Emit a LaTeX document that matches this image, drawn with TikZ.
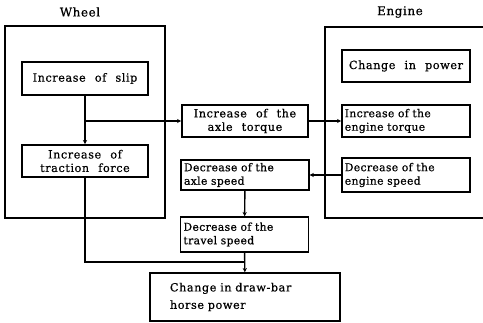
\documentclass[tikz,border=0pt]{standalone}
\usepackage{fontspec}
\setmainfont{DejaVu Serif}
\newfontfamily\boxfont{DejaVu Serif}[LetterSpace=5,WordSpace={2.2,1,0.5},FakeBold=0.6]
\newfontfamily\lboxfont{DejaVu Serif}[LetterSpace=3,WordSpace={1.5,1,0.3},FakeBold=0.6]
\usetikzlibrary{arrows.meta}

\begin{document}
\begin{tikzpicture}[x=0.025cm,y=-0.025cm,
  box/.style={draw,line width=1.1pt,font=\boxfont\fontsize{8}{9.6}\selectfont,inner sep=2pt,minimum width=3.15cm},
  cbox/.style={box,align=center},
  lbox/.style={box,align=left,inner xsep=2pt,text width=3.05cm,font=\lboxfont\fontsize{7.7}{9.6}\selectfont},
  frame/.style={line width=1.1pt},
  link/.style={line width=1pt},
  arr/.style={link,-{Stealth[length=3pt,width=3pt]}},
  head/.style={font=\boxfont\fontsize{8.5}{10}\selectfont}]
\useasboundingbox (0,0) rectangle (483,323);
% group frames
\draw[frame] (5,26) rectangle (165,218);
\draw[frame] (490,27) -- (325,27) -- (325,218) -- (490,218);
\node[head] (wheel) at (80,12) {Wheel};
\node[head] (engine) at (400,12) {Engine};
% wheel side
\node[cbox,minimum height=0.825cm] (slip) at (85,78.5) {Increase of slip};
\node[cbox,minimum height=0.8cm] (traction) at (85,161) {Increase of\\traction force};
% middle column
\node[cbox,minimum height=0.8cm] (axtorque) at (245,121) {Increase of the\\axle torque};
\node[lbox,minimum height=0.75cm] (axspeed) at (245,175) {Decrease of the\\axle speed};
\node[lbox,minimum height=0.875cm] (travel) at (244.5,234.5) {Decrease of the\\travel speed};
\node[box,align=left,text width=3.75cm,inner xsep=0.5cm,minimum width=4.75cm,minimum height=1.2cm,
  font=\boxfont\fontsize{8}{12.4}\selectfont] (drawbar) at (245,297) {Change in draw-bar\\horse power};
% engine side
\node[cbox,minimum width=3.2cm,minimum height=0.8cm] (power) at (406,66) {Change in power};
\node[lbox,text width=3.06cm,minimum height=0.8cm] (entorque) at (406,121) {Increase of the\\engine torque};
\node[lbox,text width=3.06cm,minimum height=0.85cm] (enspeed) at (406,175) {Decrease of the\\engine speed};
% connectors
\coordinate (split) at (slip.south |- axtorque.west);
\coordinate (join) at (travel.south |- 0,262);
\draw[arr] (slip) -- (traction);
\draw[arr] (split) -- (axtorque);
\draw[arr] (axtorque) -- (entorque);
\draw[arr] (enspeed) -- (axspeed);
\draw[arr] (axspeed) -- (travel);
\draw[arr] (travel) -- (drawbar);
\draw[link] (traction.south) |- (join);
\end{tikzpicture}
\end{document}
